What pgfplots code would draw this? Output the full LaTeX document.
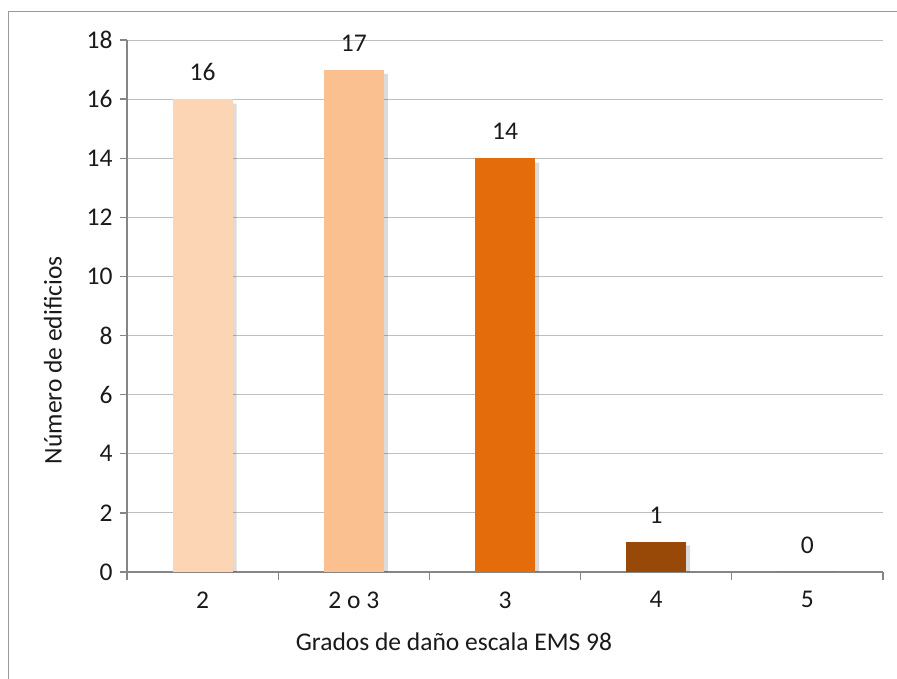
\documentclass[border=0pt]{standalone}
\usepackage{pgfplots}
\pgfplotsset{compat=1.18}
\usepackage{fontspec}
\setmainfont{Carlito}
\definecolor{c1}{HTML}{FCD5B5}
\definecolor{c2}{HTML}{FAC090}
\definecolor{c3}{HTML}{E46C0A}
\definecolor{c4}{HTML}{984807}
\definecolor{axgray}{HTML}{868686}
\definecolor{gridgray}{HTML}{BFBFBF}
\definecolor{txt}{HTML}{1A1A1A}
\begin{document}
\begin{tikzpicture}
\path[use as bounding box] (0pt,0pt) rectangle (897pt,679pt);
\draw[color=gridgray!80!black, line width=1pt] (8.5pt,0pt) -- (8.5pt,667.5pt) -- (897pt,667.5pt);
\begin{axis}[
  at={(127pt,107pt)}, anchor=south west,
  scale only axis, width=756pt, height=532pt,
  xmin=-0.5, xmax=4.5, ymin=0, ymax=18,
  ytick={0,2,...,18},
  xtick={0,1,2,3,4},
  xticklabels={2,2 o 3,3,4,5},
  minor xtick={-0.5,0.5,1.5,2.5,3.5,4.5},
  axis x line*=bottom, axis y line*=left,
  axis line style={draw=axgray, line width=1.3pt},
  ymajorgrids, grid style={draw=gridgray, line width=0.9pt},
  tick align=outside,
  major tick length=7pt, minor tick length=8pt,
  xtick style={draw=none},
  minor x tick style={draw=axgray, line width=1.3pt},
  ytick style={draw=axgray, line width=1.3pt},
  ticklabel style={font=\fontsize{25.5}{30}\selectfont, text=txt},
  /pgf/number format/assume math mode=true,
  yticklabel style={xshift=-4pt},
  xticklabel style={yshift=-9pt},
  xlabel={Grados de daño escala EMS 98},
  ylabel={Número de edificios},
  label style={font=\fontsize{25.5}{30}\selectfont, text=txt},
  xlabel style={at={(axis description cs:0.4325,-0.131)}, anchor=center},
  ylabel style={at={(axis description cs:-0.098,0.398)}, anchor=center},
  ybar, bar width=60pt,
  nodes near coords style={font=\fontsize{25.5}{30}\selectfont, text=txt, yshift=15pt},
]
% shadows
\addplot[fill=black, draw=none, opacity=0.14, bar shift=4pt] coordinates {(0,15.85) (1,16.85) (2,13.85) (3,0.9)};
% bars
\addplot[fill=c1, draw=none, bar shift=0pt, nodes near coords] coordinates {(0,16)};
\addplot[fill=c2, draw=none, bar shift=0pt, nodes near coords] coordinates {(1,17)};
\addplot[fill=c3, draw=none, bar shift=0pt, nodes near coords] coordinates {(2,14)};
\addplot[fill=c4, draw=none, bar shift=0pt, nodes near coords] coordinates {(3,1)};
\addplot[fill=c4, draw=none, bar shift=0pt, nodes near coords] coordinates {(4,0)};
\end{axis}
\end{tikzpicture}
\end{document}
